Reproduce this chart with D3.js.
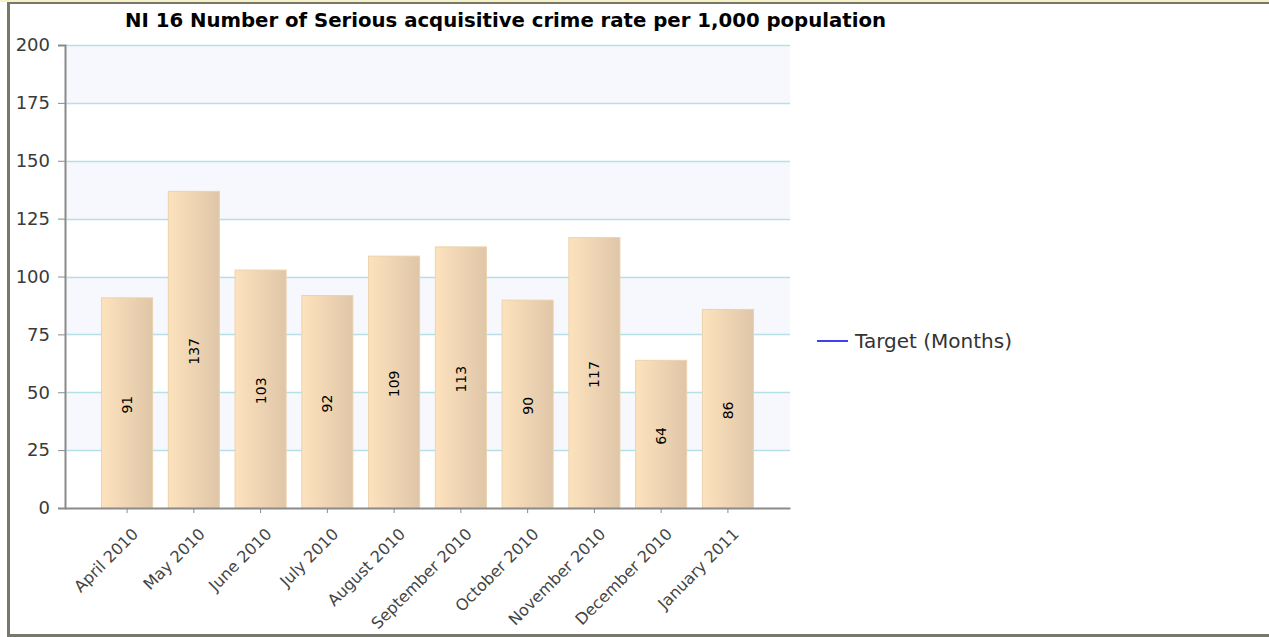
<!DOCTYPE html>
<html>
<head>
<meta charset="utf-8">
<script src="https://cdn.jsdelivr.net/npm/d3@7"></script>
<style>
  body { margin: 0; background: #fff; }
  #chart { width: 1269px; height: 637px; }
</style>
</head>
<body>
<div id="chart"></div>
<script>
// chart data
const months = ["April 2010", "May 2010", "June 2010", "July 2010", "August 2010",
    "September 2010", "October 2010", "November 2010", "December 2010", "January 2011"];
const crimeValues = [91, 137, 103, 92, 109, 113, 90, 117, 64, 86];
const yTicks = [0, 25, 50, 75, 100, 125, 150, 175, 200];
const chartTitle = "NI 16 Number of Serious acquisitive crime rate per 1,000 population";
const legendLabel = "Target (Months)";

const W = 1269, H = 637;
const plot = { left: 65, right: 790, top: 45, bottom: 508 };
const font = "DejaVu Sans, sans-serif";

const svg = d3.select("#chart").append("svg")
    .attr("width", W)
    .attr("height", H);

// page frame
svg.append("rect").attr("x", 0).attr("y", 0).attr("width", W).attr("height", 2).attr("fill", "#f6f2c4");
svg.append("rect").attr("x", 7).attr("y", 2).attr("width", W - 7).attr("height", 2).attr("fill", "#77776c");
svg.append("rect").attr("x", 7).attr("y", 2).attr("width", 3).attr("height", H - 2).attr("fill", "#77776c");
svg.append("rect").attr("x", 7).attr("y", 634).attr("width", W - 7).attr("height", 3).attr("fill", "#77776c");

// scales
const x = d3.scaleBand()
    .domain(months)
    .range([plot.left, plot.right])
    .paddingInner(0.22)
    .paddingOuter(0.54);

const y = d3.scaleLinear()
    .domain([0, 200])
    .range([plot.bottom, plot.top]);

// alternating bands
const bandPairs = d3.range(yTicks.length - 1).map(i => [yTicks[i], yTicks[i + 1]]);
svg.append("g").selectAll("rect")
    .data(bandPairs)
    .enter()
    .append("rect")
    .attr("x", plot.left)
    .attr("y", d => y(d[1]))
    .attr("width", plot.right - plot.left)
    .attr("height", d => y(d[0]) - y(d[1]))
    .attr("fill", (d, i) => i % 2 === 1 ? "#f7f8fe" : "#ffffff");

// gridlines
svg.append("g").selectAll("line")
    .data(yTicks.slice(1))
    .enter()
    .append("line")
    .attr("x1", plot.left)
    .attr("x2", plot.right)
    .attr("y1", d => Math.round(y(d)) + 0.5)
    .attr("y2", d => Math.round(y(d)) + 0.5)
    .attr("stroke", "#b5e0e8")
    .attr("stroke-width", 1.5);

// bar gradient
const defs = svg.append("defs");
const grad = defs.append("linearGradient")
    .attr("id", "barGrad")
    .attr("x1", "0%").attr("x2", "100%")
    .attr("y1", "0%").attr("y2", "0%");
grad.append("stop").attr("offset", "0%").attr("stop-color", "#fde2bd");
grad.append("stop").attr("offset", "100%").attr("stop-color", "#dfc6a8");

// bars
svg.append("g").selectAll("rect")
    .data(crimeValues)
    .enter()
    .append("rect")
    .attr("x", (d, i) => x(months[i]) + 0.5)
    .attr("y", d => y(d) + 0.5)
    .attr("width", x.bandwidth() - 1)
    .attr("height", d => y(0) - y(d) - 0.5)
    .attr("fill", "url(#barGrad)")
    .attr("stroke", "#ecd2ac")
    .attr("stroke-width", 1);

// value labels
svg.append("g").selectAll("text")
    .data(crimeValues)
    .enter()
    .append("text")
    .attr("transform", (d, i) => {
        const cx = x(months[i]) + x.bandwidth() / 2;
        const cy = (y(d) + y(0)) / 2;
        return `translate(${cx},${cy + 2}) rotate(-90)`;
    })
    .attr("text-anchor", "middle")
    .attr("dy", "0.36em")
    .attr("font-family", font)
    .attr("font-size", 14)
    .attr("fill", "#000")
    .text(d => d);

// y axis
const yAxis = svg.append("g")
    .attr("transform", `translate(${plot.left},0)`)
    .call(d3.axisLeft(y).tickValues(yTicks).tickSize(7).tickPadding(8));
yAxis.select(".domain").attr("stroke", "#8a8a8a").attr("stroke-width", 2);
yAxis.selectAll(".tick line").attr("stroke", "#8a8a8a");
yAxis.selectAll("text")
    .attr("font-family", font)
    .attr("font-size", 18)
    .attr("fill", "#3a3a3a");

// x axis
const xAxis = svg.append("g")
    .attr("transform", `translate(0,${plot.bottom})`)
    .call(d3.axisBottom(x).tickSize(5).tickSizeOuter(0));
xAxis.select(".domain").attr("stroke", "#8a8a8a").attr("stroke-width", 2);
xAxis.selectAll(".tick line").attr("stroke", "#8a8a8a");
xAxis.selectAll("text")
    .attr("font-family", font)
    .attr("font-size", 16)
    .attr("fill", "#444")
    .attr("text-anchor", "end")
    .attr("x", 0)
    .attr("y", 0)
    .attr("dy", 0)
    .attr("transform", "translate(12,27) rotate(-45)");

// title
svg.append("text")
    .attr("x", 505.5)
    .attr("y", 27)
    .attr("text-anchor", "middle")
    .attr("font-family", font)
    .attr("font-weight", "bold")
    .attr("font-size", 19)
    .attr("textLength", 761)
    .attr("lengthAdjust", "spacingAndGlyphs")
    .attr("fill", "#000")
    .text(chartTitle);

// legend
const legend = svg.append("g").attr("transform", "translate(817,341)");
legend.append("line")
    .attr("x1", 0).attr("x2", 31)
    .attr("stroke", "#0000ee")
    .attr("stroke-width", 1.5);
legend.append("text")
    .attr("x", 38)
    .attr("dy", "0.35em")
    .attr("font-family", font)
    .attr("font-size", 20)
    .attr("fill", "#333")
    .text(legendLabel);
</script>
</body>
</html>
